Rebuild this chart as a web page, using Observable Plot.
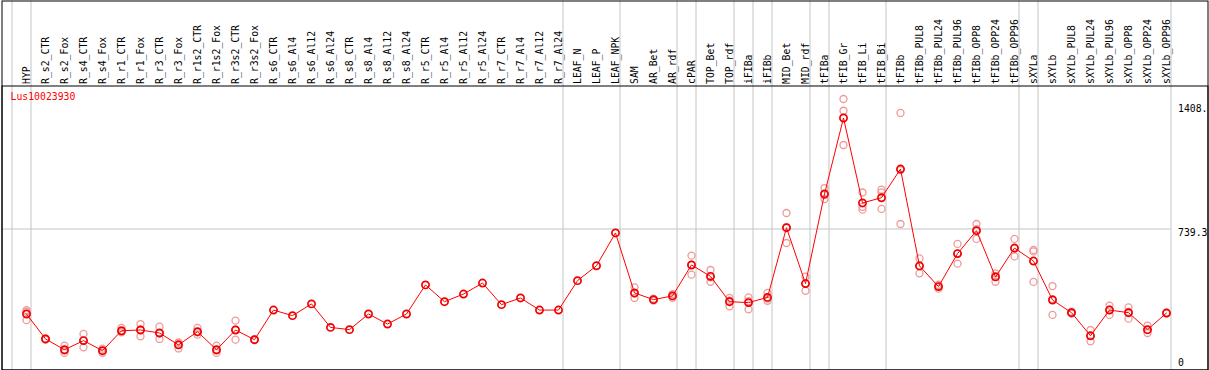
<!DOCTYPE html>
<html>
<head>
<meta charset="utf-8">
<script src="https://cdn.jsdelivr.net/npm/d3@7"></script>
<script src="https://cdn.jsdelivr.net/npm/@observablehq/plot@0.6"></script>
<style>
  html, body { margin: 0; padding: 0; background: #fff; }
  svg { display: block; }
</style>
</head>
<body>
<div id="chart"></div>
<script>
const title = "Lus10023930";

const categories = [
  "HYP","R_s2_CTR","R_s2_Fox","R_s4_CTR","R_s4_Fox","R_r1_CTR","R_r1_Fox","R_r3_CTR","R_r3_Fox",
  "R_r1s2_CTR","R_r1s2_Fox","R_r3s2_CTR","R_r3s2_Fox","R_s6_CTR","R_s6_Al4","R_s6_Al12","R_s6_Al24",
  "R_s8_CTR","R_s8_Al4","R_s8_Al12","R_s8_Al24","R_r5_CTR","R_r5_Al4","R_r5_Al12","R_r5_Al24",
  "R_r7_CTR","R_r7_Al4","R_r7_Al12","R_r7_Al24","LEAF_N","LEAF_P","LEAF_NPK","SAM","AR_Bet","AR_rdf",
  "cPAR","TOP_Bet","TOP_rdf","iFIBa","iFIBb","MID_Bet","MID_rdf","tFIBa","tFIB_Gr","tFIB_Li","tFIB_Bi",
  "tFIBb","tFIBb_PUL8","tFIBb_PUL24","tFIBb_PUL96","tFIBb_OPP8","tFIBb_OPP24","tFIBb_OPP96",
  "sXYLa","sXYLb","sXYLb_PUL8","sXYLb_PUL24","sXYLb_PUL96","sXYLb_OPP8","sXYLb_OPP24","sXYLb_OPP96"
];

const means = [
  283,149,91,140,86,193,197,181,117,188,91,197,145,304,274,337,211,199,283,229,283,439,349,390,449,
  333,369,304,304,462,542,718,396,360,380,546,485,349,344,372,746,446,927,1335,879,907,1061,541,430,
  607,730,482,637,567,358,290,166,304,290,199,288
];

const replicates = [
  [304,295,250],[146,149,152],[113,86,74],[176,140,104],[97,86,75],[208,187,184],[229,199,163],
  [215,179,149],[130,122,98],[208,184,172],[113,86,74],[247,199,145],[147,145,143],
  [],[],[],[],[],[],[],[],[],[],[],[],[],[],[],[],[],[],[],
  [426,393,369],[365,360,355],[390,380,370],[596,548,494],[519,480,456],[369,354,324],[372,352,308],
  [396,366,354],[825,749,664],[483,447,408],[959,922,900],[1437,1374,1190],[935,858,843],[950,936,847],
  [1362,1056,766],[581,541,501],[440,430,419],[659,607,553],[766,738,686],[501,488,456],[686,634,592],
  [627,619,455],[433,363,278],[295,290,285],[197,166,136],[328,306,278],[318,294,258],[220,196,181],
  [290,288,286]
];

// index of the last category of each group (-1 = before the first)
const groupEnds = [-1, 0, 28, 31, 34, 35, 37, 38, 39, 41, 42, 45, 52, 53, 60];

const yTicks = [0, 739.3, 1408];
const yTickLabels = ["0", "739.3", "1408."];
const yGrid = [739.3];

const meanData = categories.map((c, i) => ({i, name: c, value: means[i]}));
const repData = replicates.flatMap((vals, i) => vals.map(v => ({i, value: v})));
const tickData = yTicks.map((v, k) => ({value: v, label: yTickLabels[k]}));

const font = "DejaVu Sans Mono, monospace";
const sepOffset = 4.5 / 19;

const chart = Plot.plot({
  width: 1209,
  height: 370,
  marginTop: 85.5,
  marginLeft: 1.5,
  marginRight: 1.5,
  marginBottom: 0.5,
  style: {fontFamily: font, fontSize: "9.8px", background: "#fff"},
  x: {type: "linear", domain: [0, categories.length - 1], range: [26, 1166], axis: null},
  y: {domain: [0, 1408], range: [366.2, 103.9], axis: null},
  marks: [
    Plot.ruleY(yGrid, {y: d => d, stroke: "#c4c4c4", strokeWidth: 1, insetRight: 37}),
    Plot.ruleX(groupEnds, {x: d => d + sepOffset, stroke: "#c4c4c4", strokeWidth: 1, insetTop: -85}),
    Plot.frame({stroke: "black", strokeWidth: 1, insetTop: -85}),
    Plot.frame({stroke: "black", strokeWidth: 1}),
    Plot.text(categories, {
      x: (d, i) => i, text: d => d, frameAnchor: "top", rotate: -90,
      textAnchor: "start", lineAnchor: "middle", dy: -2, fill: "black",
      fontFamily: font, fontSize: 9.8
    }),
    Plot.text([title], {
      text: d => d, frameAnchor: "top-left", dx: 8.5, dy: 7.5, lineAnchor: "top",
      textAnchor: "start", fill: "red", fontFamily: font, fontSize: 9.8
    }),
    Plot.text(tickData.filter(d => d.value > 0), {
      y: "value", text: "label", frameAnchor: "right", textAnchor: "start", dx: -30,
      lineAnchor: "top", dy: 0.5, fill: "black", fontFamily: font, fontSize: 9.8
    }),
    Plot.text(tickData.filter(d => d.value === 0), {
      y: "value", text: "label", frameAnchor: "right", textAnchor: "start", dx: -30,
      lineAnchor: "bottom", dy: -0.5, fill: "black", fontFamily: font, fontSize: 9.8
    }),
    Plot.dot(repData, {x: "i", y: "value", r: 3.5, stroke: "#f09898", strokeWidth: 1.3, fill: "none"}),
    Plot.line(meanData, {x: "i", y: "value", stroke: "red", strokeWidth: 1}),
    Plot.dot(meanData, {x: "i", y: "value", r: 3.6, stroke: "#f00000", strokeWidth: 1.7, fill: "none"})
  ]
});

document.getElementById("chart").appendChild(chart);
</script>
</body>
</html>
